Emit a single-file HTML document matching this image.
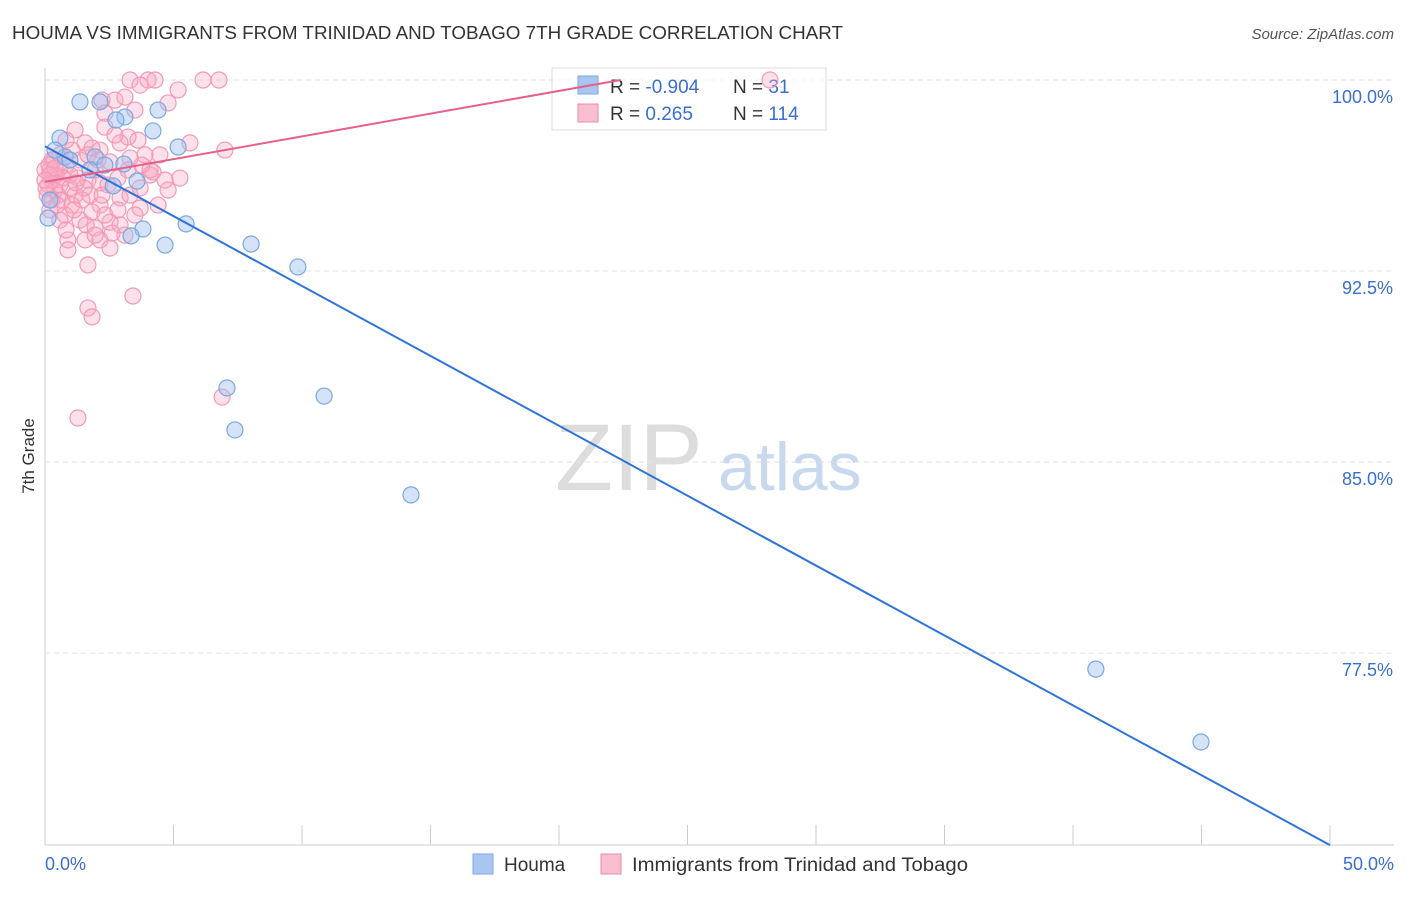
<!DOCTYPE html>
<html><head><meta charset="utf-8"><style>
body{margin:0;background:#fff;font-family:"Liberation Sans",sans-serif;}
svg text{font-family:"Liberation Sans",sans-serif;}
</style></head><body>
<svg id="c" width="1406" height="892" xmlns="http://www.w3.org/2000/svg">
<text x="12" y="39" font-size="18" fill="#333" textLength="831" lengthAdjust="spacingAndGlyphs">HOUMA VS IMMIGRANTS FROM TRINIDAD AND TOBAGO 7TH GRADE CORRELATION CHART</text>
<text x="1394" y="39" font-size="15" fill="#555" text-anchor="end" font-style="italic">Source: ZipAtlas.com</text>
<text x="34" y="456" font-size="17" fill="#333" text-anchor="middle" transform="rotate(-90 34 456)">7th Grade</text>
<text x="555" y="490" font-size="95" fill="#ddd" font-family="Liberation Serif">ZIP</text>
<text x="718" y="490" font-size="68" fill="#c8d8ee">atlas</text>
<g id="grid"></g>
<g>
<rect x="552" y="68" width="274" height="62" fill="rgba(255,255,255,0.6)" stroke="#ddd"/>
<rect x="578" y="76" width="20" height="18" fill="#a9c6f0" stroke="#7aa8e0"/>
<rect x="578" y="104" width="20" height="18" fill="#f8bfd0" stroke="#f08aab"/>
<text x="610" y="93" font-size="19" fill="#333">R = <tspan fill="#3a6fd0">-0.904</tspan></text>
<text x="733" y="93" font-size="19" fill="#333">N = <tspan fill="#3a6fd0"> 31</tspan></text>
<text x="610" y="120" font-size="19" fill="#333">R = <tspan fill="#3a6fd0"> 0.265</tspan></text>
<text x="733" y="120" font-size="19" fill="#333">N = <tspan fill="#3a6fd0">114</tspan></text>
</g>
<g id="pts"></g><g id="lines"></g>
<g>
<rect x="473" y="854" width="20" height="20" fill="#a9c6f0" stroke="#7aa8e0"/>
<text x="504" y="871" font-size="19" fill="#333">Houma</text>
<rect x="601" y="854" width="20" height="20" fill="#f8bfd0" stroke="#f08aab"/>
<text x="632" y="871" font-size="19" fill="#333" textLength="336" lengthAdjust="spacingAndGlyphs">Immigrants from Trinidad and Tobago</text>
</g>
</svg>
<script>
const yTicks=[100,92.5,85,77.5];
const yTickLabels=["100.0%","92.5%","85.0%","77.5%"];
const xEndLabels=["0.0%","50.0%"];
const blueX=[1.36,2.14,4.40,0.58,3.11,2.76,4.20,5.18,0.78,1.95,3.07,3.58,2.65,5.49,3.81,3.35,4.67,8.02,9.84,7.08,10.86,7.39,14.24,40.89,44.98,0.12,0.97,1.75,0.39,2.33,0.19];
const blueY=[99.14,99.14,98.82,97.72,98.55,98.43,98.00,97.37,96.98,96.98,96.70,96.03,95.84,94.35,94.15,93.88,93.52,93.56,92.66,87.91,87.59,86.26,83.71,76.87,74.01,94.58,96.86,96.47,97.25,96.66,95.29];
const pinkX=[3.31,4.01,4.28,6.15,6.77,28.21,3.70,5.18,4.79,2.22,2.72,3.11,2.33,3.50,1.17,3.23,2.33,1.56,1.05,2.14,2.92,3.89,4.47,5.64,7.00,1.36,2.53,3.31,4.20,5.25,0.58,0.97,1.67,2.14,2.84,3.70,4.79,0.19,0.27,0.39,0.12,0.51,0.66,1.17,1.75,2.14,2.92,3.70,4.40,0.19,0.78,1.36,1.95,2.53,3.11,0.89,1.56,2.14,2.53,0.89,1.67,3.42,1.67,1.83,6.89,1.28,0.27,0.43,0.58,0,0.08,0.82,1.28,1.95,2.45,3.31,4.09,4.67,1.44,1.83,2.33,2.92,3.50,0.58,1.05,1.52,2.06,2.72,3.62,1.83,0.82,0.27,0.47,0.70,0,0.16,0.35,0.97,1.21,1.60,1.95,2.61,4.09,3.23,3.77,2.22,0.82,1.13,2.84,1.67,0.58,0.19,0.04,0.39];
const pinkY=[100,100,100,100,100,100,99.80,99.61,99.10,99.21,99.21,99.33,98.70,98.82,98.04,97.76,98.15,97.53,97.25,97.25,97.53,97.06,97.06,97.53,97.25,96.86,96.78,96.94,96.39,96.15,96.55,96.27,96.07,95.96,96.15,95.76,95.68,96.47,96.07,95.68,95.88,95.48,95.29,95.48,95.48,95.09,95.37,94.97,95.09,94.90,94.70,94.50,94.19,94.42,93.91,93.72,93.72,93.72,93.40,93.33,92.74,91.52,91.05,90.70,87.55,86.73,96.86,96.27,95.88,96.07,95.48,96.66,96.15,96.47,95.88,95.48,96.27,96.07,95.29,94.82,94.70,94.31,94.70,94.50,95.09,95.76,96.86,97.84,97.64,97.33,97.64,95.29,95.09,96.15,96.47,96.66,96.86,95.76,95.96,94.31,93.91,93.99,96.47,96.47,96.66,95.48,94.11,94.90,94.90,97.06,97.06,96.27,95.76,96.55];
const blueTrend=[0,97.4,50,69.96];
const pinkTrend=[0,96.0,22.4,100.0];

const NS="http://www.w3.org/2000/svg";
const X0=45,X1=1330,Y0=80,YS=25.47;
function sx(v){return X0+v*(X1-X0)/50;}
function sy(v){return Y0+(100-v)*YS;}
function mk(t,a,p){const e=document.createElementNS(NS,t);for(const k in a)e.setAttribute(k,a[k]);p.appendChild(e);return e;}
const grid=document.getElementById('grid');
mk('line',{x1:45,y1:68,x2:45,y2:845,stroke:'#ccc'},grid);
mk('line',{x1:45,y1:845,x2:1394,y2:845,stroke:'#ccc'},grid);
yTicks.forEach((t,i)=>{
  const g=mk('line',{x1:45,y1:sy(t),x2:1394,y2:sy(t),stroke:'#e2e2e2','stroke-dasharray':'5,4'},grid);
  
  
  const tx=mk('text',{x:1393,y:sy(t)+23,'font-size':18,fill:'#3a6fd0','text-anchor':'end'},grid);
  tx.textContent=yTickLabels[i];
  
  
});
for(let i=0;i<=10;i++){
  const t=mk('line',{x1:sx(i*5),y1:825,x2:sx(i*5),y2:845,stroke:'#ccc'},grid);
  
  
}
const l0=mk('text',{x:45,y:870,'font-size':18,fill:'#3a6fd0'},grid);l0.textContent=xEndLabels[0];


const l1=mk('text',{x:1394,y:870,'font-size':18,fill:'#3a6fd0','text-anchor':'end'},grid);l1.textContent=xEndLabels[1];


const pts=document.getElementById('pts');
pinkX.forEach((x,i)=>{
  const c=mk('circle',{cx:sx(x),cy:sy(pinkY[i]),r:8,fill:'rgba(248,170,195,0.35)',stroke:'#f29ab6','stroke-width':1.2},pts);
  
  
});
blueX.forEach((x,i)=>{
  const c=mk('circle',{cx:sx(x),cy:sy(blueY[i]),r:8,fill:'rgba(160,192,240,0.45)',stroke:'#7aa8e0','stroke-width':1.2},pts);
  
  
});
const lines=document.getElementById('lines');
const bl=mk('line',{x1:sx(blueTrend[0]),y1:sy(blueTrend[1]),x2:sx(blueTrend[2]),y2:sy(blueTrend[3]),stroke:'#2f74d8','stroke-width':2},lines);


const pl=mk('line',{x1:sx(pinkTrend[0]),y1:sy(pinkTrend[1]),x2:sx(pinkTrend[2]),y2:sy(pinkTrend[3]),stroke:'#e8608a','stroke-width':2},lines);


</script>
</body></html>
